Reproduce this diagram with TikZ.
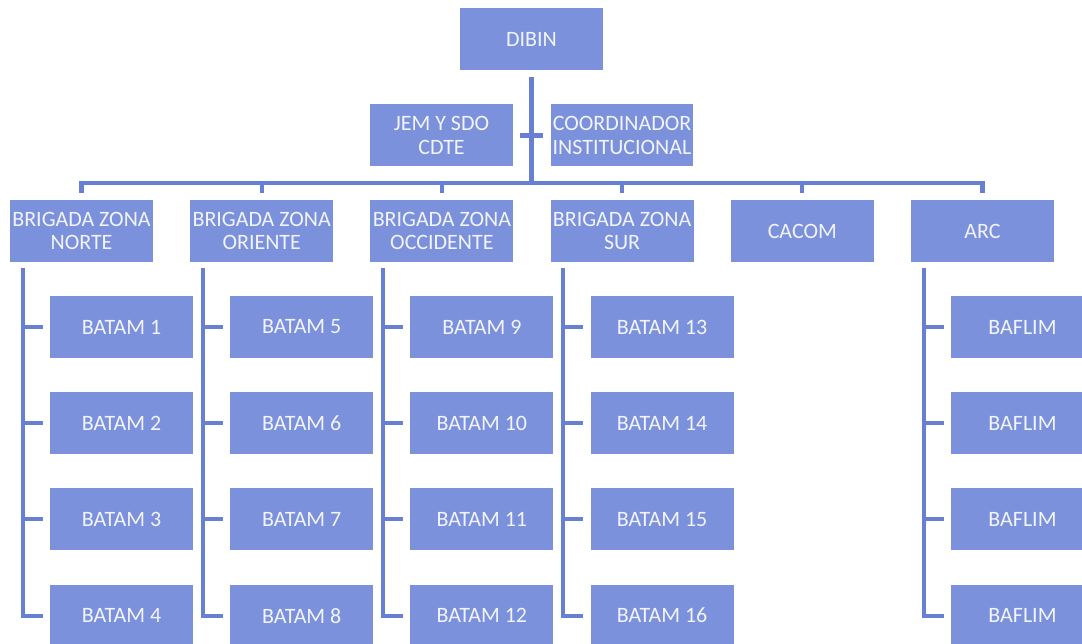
\documentclass[tikz,border=0pt]{standalone}
\usepackage{fontspec}
\setmainfont{Carlito}
\usetikzlibrary{calc}
\definecolor{boxblue}{RGB}{124,145,220}
\definecolor{lineblue}{RGB}{104,128,212}
\definecolor{boxtext}{RGB}{242,244,252}

\begin{document}
\begin{tikzpicture}[x=0.02cm,y=-0.02cm,
  box/.style={rectangle,fill=boxblue,text=boxtext,minimum width=2.86cm,minimum height=1.24cm,
    inner sep=0pt,align=center,font=\fontsize{12.5}{13.6}\selectfont},
  link/.style={draw=lineblue,line width=2.3pt}]
\useasboundingbox (0,0) rectangle (1082,644);
\node[box] (dibin) at (531.5,39){DIBIN};
\node[box] (jem) at (441.5,135.5){JEM Y SDO\\CDTE};
\node[box] (coord) at (622,135.5){COORDINADOR\\INSTITUCIONAL};
\foreach \i/\txt in {1/{BRIGADA ZONA\\NORTE},2/{BRIGADA ZONA\\ORIENTE},3/{BRIGADA ZONA\\OCCIDENTE},4/{BRIGADA ZONA\\SUR},5/CACOM,6/ARC}
  \node[box] (b\i) at ({81.5+180.2*(\i-1)},231){\txt};
\foreach \i in {1,...,4}
  \foreach \r in {1,...,4}{
    \pgfmathtruncatemacro\n{4*(\i-1)+\r}
    \node[box] (c\i-\r) at ({121.5+180.2*(\i-1)},{327+96.2*(\r-1)}){BATAM \n};
  }
\foreach \r in {1,...,4}
  \node[box] (c6-\r) at ({121.5+180.2*5},{327+96.2*(\r-1)}){BAFLIM};

\draw[link] ($(dibin.south)+(0,7)$) -- ($(dibin.south)+(0,113)$);
\draw[link] ($(jem.east)+(7,0)$) -- ($(coord.west)+(-7,0)$);
\draw[link] ($(b1.north)+(0,-7)$) |- ($(b6.north)+(0,-17)$) -- ($(b6.north)+(0,-7)$);
\foreach \i in {2,...,5}
  \draw[link] ($(b\i.north)+(0,-7)$) -- ($(b\i.north)+(0,-17)$);
\foreach \i in {1,2,3,4,6}{
  \draw[link] ($(b\i.south west)+(13,6)$) |- ($(c\i-4.west)+(-7,0)$);
  \foreach \r in {1,2,3}
    \draw[link] ($(c\i-\r.west)+(-27,0)$) -- ($(c\i-\r.west)+(-7,0)$);
}
\end{tikzpicture}
\end{document}
